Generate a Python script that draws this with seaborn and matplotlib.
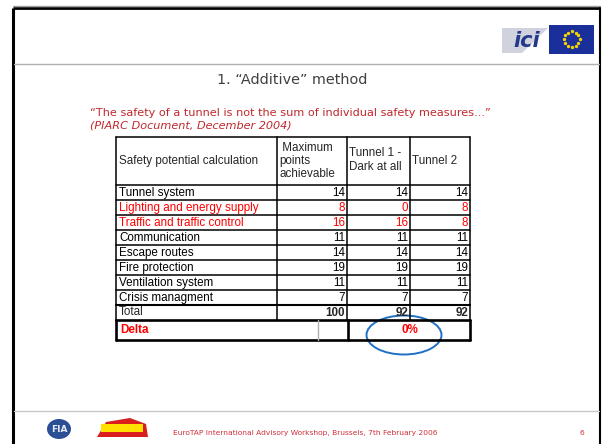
import seaborn as sns
import matplotlib.pyplot as plt
import pandas as pd
import numpy as np
from matplotlib.patches import Rectangle, Ellipse, Polygon


# ---- data ----
items = ['Tunnel system', 'Lighting and energy supply', 'Traffic and traffic control',
         'Communication', 'Escape routes', 'Fire protection', 'Ventilation system',
         'Crisis managment']
max_points = [14, 8, 16, 11, 14, 19, 11, 7]
tunnel1 = [14, 0, 16, 11, 14, 19, 11, 7]
tunnel2 = [14, 8, 8, 11, 14, 19, 11, 7]
red_rows = ['Lighting and energy supply', 'Traffic and traffic control']
headers = ['Safety potential calculation', ' Maximum\npoints\nachievable',
           'Tunnel 1 -\nDark at all', 'Tunnel 2']

title = '1. \u201cAdditive\u201d method'
quote = '\u201cThe safety of a tunnel is not the sum of individual safety measures...\u201d'
source = '(PIARC Document, December 2004)'
footer = 'EuroTAP International Advisory Workshop, Brussels, 7th February 2006'
page = '6'

df = pd.DataFrame({'item': items, 'max': max_points, 't1': tunnel1, 't2': tunnel2})
totals = df[['max', 't1', 't2']].sum()
delta = (totals['t2'] - totals['t1']) / totals['t1']


sns.set_theme(style='white')
plt.rcParams['font.family'] = ['DejaVu Sans']

fig = plt.figure(figsize=(6.02, 4.44), dpi=100)
ax = fig.add_axes([0, 0, 1, 1])
ax.set_xlim(0, 602)
ax.set_ylim(444, 0)
ax.axis('off')

RED = '#ff0000'
DARKRED = '#c0282d'
TFONT = 'Liberation Sans'
FS = 8.4

# ---- slide frame ----
ax.plot([13, 13], [8, 444], color='black', lw=2.2, solid_capstyle='butt')
ax.plot([13, 600], [8, 8], color='black', lw=2.0, solid_capstyle='butt')
ax.plot([13, 600], [6, 6], color='#a0a0a0', lw=1.0)
ax.plot([600, 600], [8, 444], color='black', lw=1.5)
ax.plot([14, 599], [64, 64], color='#b0b0b0', lw=1.0)
ax.plot([14, 599], [411, 411], color='#c8c8c8', lw=1.0)

# ---- logos (rough shapes) ----
ax.add_patch(Polygon([[502, 28], [548, 28], [522, 53], [502, 53]], closed=True,
                     color='#d0d2de', lw=0))
ax.text(527, 41, 'ici', fontsize=15, fontweight='bold', style='italic', color='#233a8c',
        ha='center', va='center')
ax.add_patch(Rectangle((549, 25), 45, 29, color='#1b2f9a', lw=0))
ang = np.linspace(0, 2 * np.pi, 13)[:-1]
ax.scatter(571.5 + 8 * np.cos(ang), 39.5 + 8 * np.sin(ang), s=2, color='#f4d400', zorder=3)

ax.add_patch(Ellipse((59, 429), 24, 20, color='#2a4f95', lw=0))
ax.text(59, 429, 'FIA', fontsize=6.5, fontweight='bold', color='#e8e8f0', ha='center',
        va='center')
ax.add_patch(Polygon([[97, 437], [106, 422], [130, 418], [146, 424], [148, 437]],
                     closed=True, color='#d81e1e', lw=0))
ax.add_patch(Rectangle((101, 424), 42, 8, color='#ffe000', lw=0))

# ---- titles ----
ax.text(292, 80, title, fontsize=10.4, ha='center', va='center', color='#404040')
ax.text(90, 113, quote, fontsize=8.1, ha='left', va='center', color=DARKRED)
ax.text(90, 125, source, fontsize=8.1, ha='left', va='center', color=DARKRED, style='italic')

# ---- table ----
cols = [116, 277, 347, 410, 470]
top, head_bot, pitch = 137, 185, 15.05
n = len(items) + 1
rows = [head_bot + i * pitch for i in range(n + 1)]
delta_bot = 340

lw = 1.1
for y in [top, head_bot] + rows[1:-1]:
    ax.plot([cols[0], cols[-1]], [y, y], color='black', lw=lw)
ax.plot([cols[0], cols[-1]], [rows[-2], rows[-2]], color='black', lw=1.5)
for x in cols:
    ax.plot([x, x], [top, rows[-1]], color='black', lw=lw)

# delta row box
ax.plot([cols[0], cols[-1]], [rows[-1], rows[-1]], color='black', lw=1.9)
ax.plot([cols[0], cols[-1]], [delta_bot, delta_bot], color='black', lw=1.9)
ax.plot([cols[0], cols[0]], [rows[-1], delta_bot], color='black', lw=1.9)
ax.plot([cols[-1], cols[-1]], [rows[-1], delta_bot], color='black', lw=1.9)
ax.plot([348, 348], [rows[-1], delta_bot], color='black', lw=1.9)
ax.plot([318, 318], [rows[-1], delta_bot], color='#b0b0b0', lw=1.0)

# headers
ax.text(cols[0] + 3, (top + head_bot) / 2, headers[0], fontsize=FS, family=TFONT,
        ha='left', va='center')
ax.text(cols[1] + 2, (top + head_bot) / 2, headers[1], fontsize=FS, family=TFONT,
        ha='left', va='center', linespacing=1.15)
ax.text(cols[2] + 2, (top + head_bot) / 2 - 1, headers[2], fontsize=FS, family=TFONT,
        ha='left', va='center', linespacing=1.2)
ax.text(cols[3] + 2, (top + head_bot) / 2, headers[3], fontsize=FS, family=TFONT,
        ha='left', va='center')

# body
for i, row in df.iterrows():
    yc = (rows[i] + rows[i + 1]) / 2
    c = RED if row['item'] in red_rows else 'black'
    ax.text(cols[0] + 3, yc, row['item'], fontsize=FS, family=TFONT, color=c,
            ha='left', va='center')
    for j, key in enumerate(['max', 't1', 't2']):
        ax.text(cols[j + 2] - 2, yc, str(row[key]), fontsize=FS, family=TFONT, color=c,
                ha='right', va='center')

yc = (rows[-2] + rows[-1]) / 2
ax.text(cols[0] + 3, yc - 1, 'Total', fontsize=FS, family=TFONT, ha='left', va='center')
for j, key in enumerate(['max', 't1', 't2']):
    ax.text(cols[j + 2] - 2, yc, str(totals[key]), fontsize=FS, family=TFONT,
            fontweight='bold', ha='right', va='center')

yc = (rows[-1] + delta_bot) / 2
ax.text(cols[0] + 4, yc, 'Delta', fontsize=FS, family=TFONT, fontweight='bold',
        color=RED, ha='left', va='center')
ax.text(410, yc, f'{delta:.0%}', fontsize=FS, family=TFONT, fontweight='bold',
        color=RED, ha='center', va='center')

ax.add_patch(Ellipse((404, 335), 75, 39, fill=False, edgecolor='#1f6fc4', lw=1.4))

# ---- footer ----
ax.text(173, 433, footer, fontsize=5.4, color='#d0303c', ha='left', va='center')
ax.text(579, 433, page, fontsize=5.4, color='#d0303c', ha='left', va='center')

fig.savefig('out.png', dpi=100)
